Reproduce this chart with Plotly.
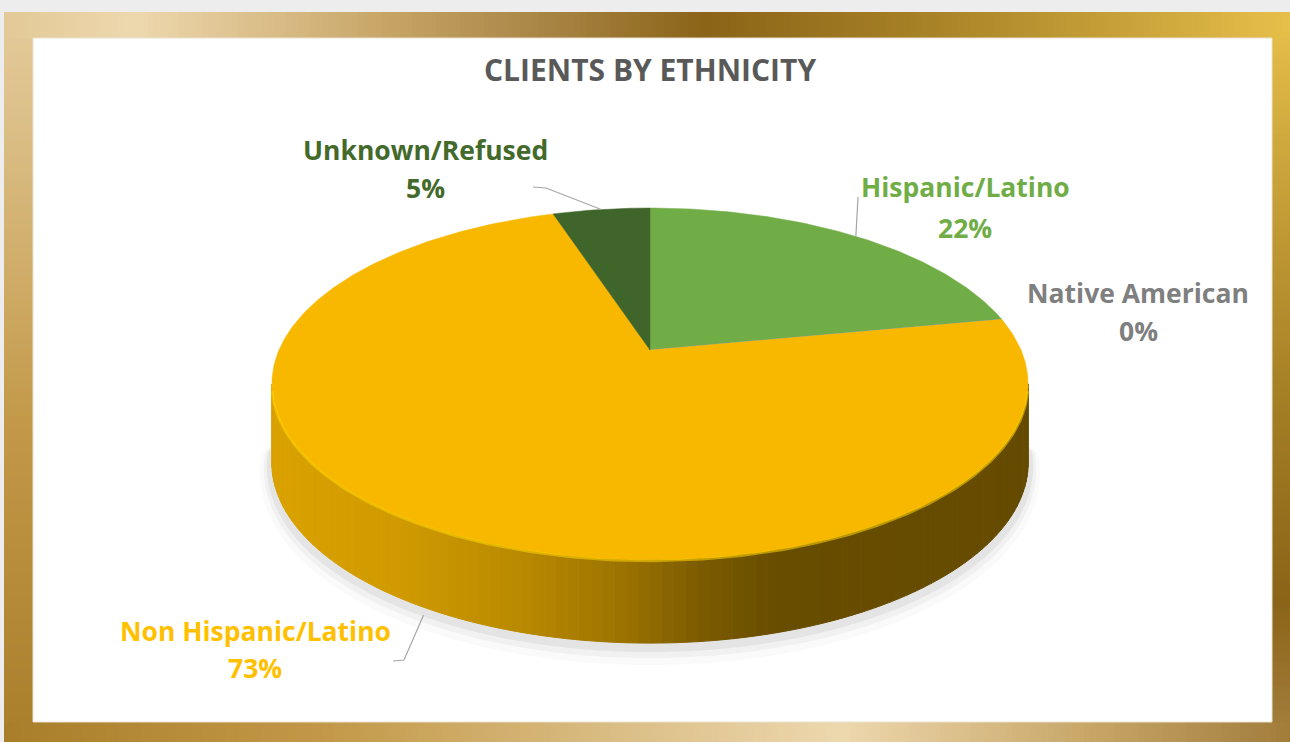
import numpy as np
import plotly.graph_objects as go

# ---------------- data ----------------
categories = ["Hispanic/Latino", "Native American", "Non Hispanic/Latino", "Unknown/Refused"]
shares = [22, 0, 73, 5]
top_colors = ["#70AD47", "#5B9BD5", "#F8B800", "#40652A"]
label_colors = ["#70AD47", "#7F7F7F", "#FFC000", "#43692B"]
title_text = "CLIENTS BY ETHNICITY"

# label placement (pixel coords, y downward)
label_pos = {
    "Hispanic/Latino": (965, 187, 228),
    "Native American": (1138, 293, 331),
    "Non Hispanic/Latino": (255, 631, 668),
    "Unknown/Refused": (425, 150, 188),
}
leader_start = {
    "Hispanic/Latino": [(858, 197)],
    "Non Hispanic/Latino": [(393, 661), (404, 660)],
    "Unknown/Refused": [(533, 187), (546, 188)],
}

W, H_PX = 1290, 742

# ---------------- pie geometry (perspective disk) ----------------
CX, CY = 650, 350
R, HV, K = 371, 169.4, 0.193
DEPTH = 78


def rim(theta_deg, drop=False):
    t = np.radians(theta_deg)
    u, v = np.sin(t), np.cos(t)
    s = 1.0 / (1.0 + K * v)
    x = CX + R * u * s
    y = CY - HV * v * s
    if drop:
        y = y + DEPTH * s ** 0.3
    return x, y


fig = go.Figure()

# ---------------- frame (decoration) ----------------
grad_t = [-760, -400, -100, 110, 350, 520, 680, 900, 1100, 1300]
grad_c = ["#A67C28", "#C49A4A", "#DCC089", "#EED8AE", "#C9A86A",
          "#A98545", "#8B6418", "#A88226", "#C9A23A", "#EDC64E"]


def hex2rgb(h):
    h = h.lstrip("#")
    return np.array([int(h[i:i + 2], 16) for i in (0, 2, 4)], float)


def grad_color(t):
    t = min(max(t, grad_t[0]), grad_t[-1])
    for i in range(len(grad_t) - 1):
        if grad_t[i] <= t <= grad_t[i + 1]:
            f = (t - grad_t[i]) / (grad_t[i + 1] - grad_t[i])
            c = hex2rgb(grad_c[i]) * (1 - f) + hex2rgb(grad_c[i + 1]) * f
            return "rgb(%d,%d,%d)" % tuple(c)
    return grad_c[-1]


shapes = []
FX0, FY0 = 4, 12
IX0, IX1, IY0, IY1 = 33, 1272, 38, 722
step = 6
for x0 in range(FX0, W, step):
    x1 = min(x0 + step, W)
    for (y0, y1) in [(FY0, IY0), (IY1, H_PX)]:
        c = grad_color((x0 + x1) / 2 - (y0 + y1) / 2)
        shapes.append(dict(type="rect", xref="x", yref="y", x0=x0, x1=x1 + 0.6, y0=y0, y1=y1,
                           fillcolor=c, line=dict(width=0), layer="below"))
for y0 in range(IY0, IY1, step):
    y1 = min(y0 + step, IY1)
    for (x0, x1) in [(FX0, IX0), (IX1, W)]:
        c = grad_color((x0 + x1) / 2 - (y0 + y1) / 2)
        shapes.append(dict(type="rect", xref="x", yref="y", x0=x0, x1=x1, y0=y0, y1=y1 + 0.6,
                           fillcolor=c, line=dict(width=0), layer="below"))
shapes.append(dict(type="rect", xref="x", yref="y", x0=IX0, x1=IX1, y0=IY0, y1=IY1,
                   fillcolor="white", line=dict(color="#E8E2D2", width=1), layer="below"))

# ---------------- pie: side wall ----------------
th = np.linspace(0, 360, 3601)
xs = np.array([rim(a)[0] for a in th])
theta_R = th[:1800][np.argmax(xs[:1800])]
theta_L = th[1800:][np.argmin(xs[1800:])]

shade_x = [272, 400, 520, 620, 700, 780, 1030]
shade_f = [0.88, 0.84, 0.75, 0.63, 0.50, 0.42, 0.41]

# soft shadow under the wall
sh_th = np.linspace(theta_R - 6, theta_L + 6, 200)
for off, wdt, op in [(4, 10, 0.05), (7, 16, 0.035), (10, 24, 0.02)]:
    pts = [rim(a, drop=True) for a in sh_th]
    fig.add_trace(go.Scatter(x=[p[0] for p in pts], y=[p[1] + off for p in pts], mode="lines",
                             line=dict(color="rgba(0,0,0,%.3f)" % op, width=wdt, shape="spline"),
                             hoverinfo="skip", showlegend=False))

cum = 0.0
for cat, val, col in zip(categories, shares, top_colors):
    a0, a1 = cum * 3.6, (cum + val) * 3.6
    cum += val
    lo, hi = max(a0, theta_R), min(a1, theta_L)
    if val == 0 or hi <= lo:
        continue
    n = int((hi - lo) / 1.5) + 1
    edges = np.linspace(lo, hi, n + 1)
    base = hex2rgb(col)
    for i in range(n):
        p0, p1 = rim(edges[i]), rim(edges[i + 1])
        q0, q1 = rim(edges[i], True), rim(edges[i + 1], True)
        xm = (p0[0] + p1[0]) / 2
        f = float(np.interp(xm, shade_x, shade_f))
        c = "rgb(%d,%d,%d)" % tuple(np.clip(base * f, 0, 255))
        fig.add_trace(go.Scatter(x=[p0[0], p1[0], q1[0], q0[0], p0[0]],
                                 y=[p0[1], p1[1], q1[1], q0[1], p0[1]],
                                 mode="lines", fill="toself", fillcolor=c,
                                 line=dict(color=c, width=1),
                                 hoverinfo="skip", showlegend=False))

# ---------------- pie: top face ----------------
cum = 0.0
for cat, val, col in zip(categories, shares, top_colors):
    a0, a1 = cum * 3.6, (cum + val) * 3.6
    cum += val
    if val == 0:
        px, py = rim(a0)
        fig.add_trace(go.Scatter(x=[CX, px], y=[CY, py], mode="lines",
                                 line=dict(color=col, width=1.2),
                                 hoverinfo="skip", showlegend=False))
        continue
    arc = np.linspace(a0, a1, max(3, int(val * 5)))
    pts = [rim(a) for a in arc]
    fig.add_trace(go.Scatter(x=[CX] + [p[0] for p in pts] + [CX],
                             y=[CY] + [p[1] for p in pts] + [CY],
                             mode="lines", fill="toself", fillcolor=col,
                             line=dict(color=col, width=0.5),
                             hoverinfo="skip", showlegend=False, name=cat))

# highlight bevel on front rim
hl = np.linspace(theta_R + 2, theta_L - 2, 200)
pts = [rim(a) for a in hl]
fig.add_trace(go.Scatter(x=[p[0] for p in pts], y=[p[1] + 1 for p in pts], mode="lines",
                         line=dict(color="rgba(255,214,0,0.55)", width=2.5),
                         hoverinfo="skip", showlegend=False))

# ---------------- leader lines & labels ----------------
annotations = []
cum = 0.0
for cat, val, lc in zip(categories, shares, label_colors):
    mid = (cum + val / 2) * 3.6
    cum += val
    if cat in leader_start:
        on_side = theta_R < mid < theta_L
        ex, ey = rim(mid, drop=on_side)
        if on_side:
            ey += 8
        lx = [p[0] for p in leader_start[cat]] + [ex]
        ly = [p[1] for p in leader_start[cat]] + [ey]
        fig.add_trace(go.Scatter(x=lx, y=ly, mode="lines",
                                 line=dict(color="#A6A6A6", width=1.2),
                                 hoverinfo="skip", showlegend=False))
    x, y1, y2 = label_pos[cat]
    annotations.append(dict(x=x, y=y1, xref="x", yref="y", text=cat, showarrow=False,
                            font=dict(family="Open Sans", size=26.5, color=lc, weight=700),
                            xanchor="center", yanchor="middle"))
    annotations.append(dict(x=x, y=y2, xref="x", yref="y", text=f"{val}%", showarrow=False,
                            font=dict(family="Open Sans", size=26.5, color=lc, weight=700),
                            xanchor="center", yanchor="middle"))

annotations.append(dict(x=650, y=69, xref="x", yref="y", text=title_text, showarrow=False,
                        font=dict(family="Open Sans", size=30, color="#595959", weight=700),
                        xanchor="center", yanchor="middle"))

fig.update_layout(
    width=W, height=H_PX, autosize=False,
    margin=dict(l=0, r=0, t=0, b=0),
    paper_bgcolor="#EDEDED", plot_bgcolor="rgba(0,0,0,0)",
    xaxis=dict(range=[0, W], visible=False, fixedrange=True),
    yaxis=dict(range=[H_PX, 0], visible=False, fixedrange=True),
    shapes=shapes, annotations=annotations, showlegend=False,
)

fig.write_html("out.html", config={"displayModeBar": False},
               post_script="document.body.style.margin='0';document.body.style.overflow='hidden';")
